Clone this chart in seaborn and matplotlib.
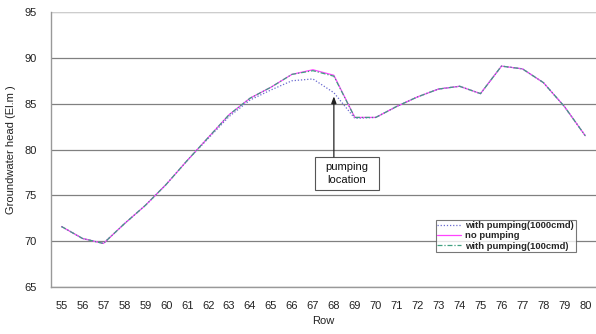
import matplotlib
matplotlib.use("Agg")
import matplotlib.pyplot as plt
from matplotlib.patches import Rectangle
import seaborn as sns
import pandas as pd
import numpy as np

rows = list(range(55, 81))
no_pumping = [71.6, 70.3, 69.75, 71.9, 73.9, 76.2, 78.8, 81.3, 83.8, 85.6, 86.8, 88.2, 88.7, 88.1,
              83.5, 83.5, 84.7, 85.75, 86.6, 86.9, 86.1, 89.1, 88.8, 87.3, 84.7, 81.5]
pumping_1000 = [71.6, 70.3, 69.75, 71.9, 73.9, 76.2, 78.8, 81.2, 83.6, 85.4, 86.5, 87.5, 87.7, 86.2,
                83.4, 83.5, 84.7, 85.75, 86.6, 86.9, 86.1, 89.1, 88.8, 87.3, 84.7, 81.5]
pumping_100 = [71.6, 70.3, 69.75, 71.9, 73.9, 76.2, 78.8, 81.3, 83.8, 85.6, 86.8, 88.2, 88.6, 88.0,
               83.5, 83.5, 84.7, 85.75, 86.6, 86.9, 86.1, 89.1, 88.8, 87.3, 84.7, 81.5]
series_names = ["with pumping(1000cmd)", "no pumping", "with pumping(100cmd)"]
y_ticks = [65, 70, 75, 80, 85, 90, 95]
pump_row, pump_head = 68, 85.8

df = pd.DataFrame({
    "Row": rows * 3,
    "head": pumping_1000 + no_pumping + pumping_100,
    "case": [series_names[0]] * len(rows) + [series_names[1]] * len(rows) + [series_names[2]] * len(rows),
})

sns.set_style("white")
plt.rcParams["font.family"] = ["Liberation Sans", "DejaVu Sans"]

fig = plt.figure(figsize=(5.96, 3.34), dpi=100)
ax = fig.add_axes([0.0856, 0.1407, 0.914, 0.8233])

palette = {series_names[0]: "#6a6ad0", series_names[1]: "#ff44ff", series_names[2]: "#40a080"}
styles = {series_names[0]: (0, (1, 1.5)), series_names[1]: "-", series_names[2]: (0, (4, 1.5, 1, 1.5))}

for name in series_names:
    sub = df[df["case"] == name]
    sns.lineplot(data=sub, x="Row", y="head", ax=ax, color=palette[name],
                 linewidth=0.9, label=name, linestyle=styles[name])

ax.set_xlim(54.5, 80.5)
ax.set_ylim(65, 95)
ax.set_yticks(y_ticks)
ax.set_xticks(rows)
ax.set_xticks(np.arange(54.5, 81, 1), minor=True)
ax.tick_params(axis="x", which="major", length=0, labelsize=8, pad=10, colors="#222222")
ax.tick_params(axis="x", which="minor", length=5, width=0.8, color="#888888", direction="out")
ax.tick_params(axis="y", length=0, labelsize=8, pad=10, colors="#222222")
ax.yaxis.grid(True, color="#808080", linewidth=0.9)
ax.set_axisbelow(True)
# lighter line along the top of the plot area
ax.axhline(95, color="#dddddd", linewidth=1.2, zorder=1.5)
for s in ["top", "right"]:
    ax.spines[s].set_visible(False)
for s in ["left", "bottom"]:
    ax.spines[s].set_color("#999999")
    ax.spines[s].set_linewidth(1.0)

ax.set_xlabel("Row", fontsize=8, color="#222222", labelpad=4)
ax.set_ylabel("Groundwater head (El.m )", fontsize=8, color="#222222", labelpad=6)

# callout box with a vertical arrow pointing at the pumping cell
box_x0, box_x1, box_y0, box_y1 = 68.0 - 0.92, 68.0 + 2.17, 75.6, 79.2
ax.add_patch(Rectangle((box_x0, box_y0), box_x1 - box_x0, box_y1 - box_y0,
                       facecolor="white", edgecolor="#555555", linewidth=0.8, zorder=4))
ax.text((box_x0 + box_x1) / 2, (box_y0 + box_y1) / 2, "pumping\nlocation", ha="center", va="center",
        fontsize=8, color="#111111", zorder=5, linespacing=1.3)
ax.annotate("", xy=(pump_row, pump_head), xytext=(pump_row, box_y1),
            arrowprops=dict(arrowstyle="-|>,head_length=0.4,head_width=0.15", color="#222222",
                            lw=0.9, shrinkA=0, shrinkB=0), zorder=5)

leg = ax.legend(loc="upper left", bbox_to_anchor=(0.706, 0.244), fontsize=6.8, frameon=True,
                fancybox=False, handlelength=2.5, borderpad=0.15, labelspacing=0.12,
                handletextpad=0.5, borderaxespad=0)
leg.get_frame().set_edgecolor("#555555")
leg.get_frame().set_linewidth(0.8)
for t in leg.get_texts():
    t.set_fontweight("bold")

fig.savefig("out.png", dpi=100)
